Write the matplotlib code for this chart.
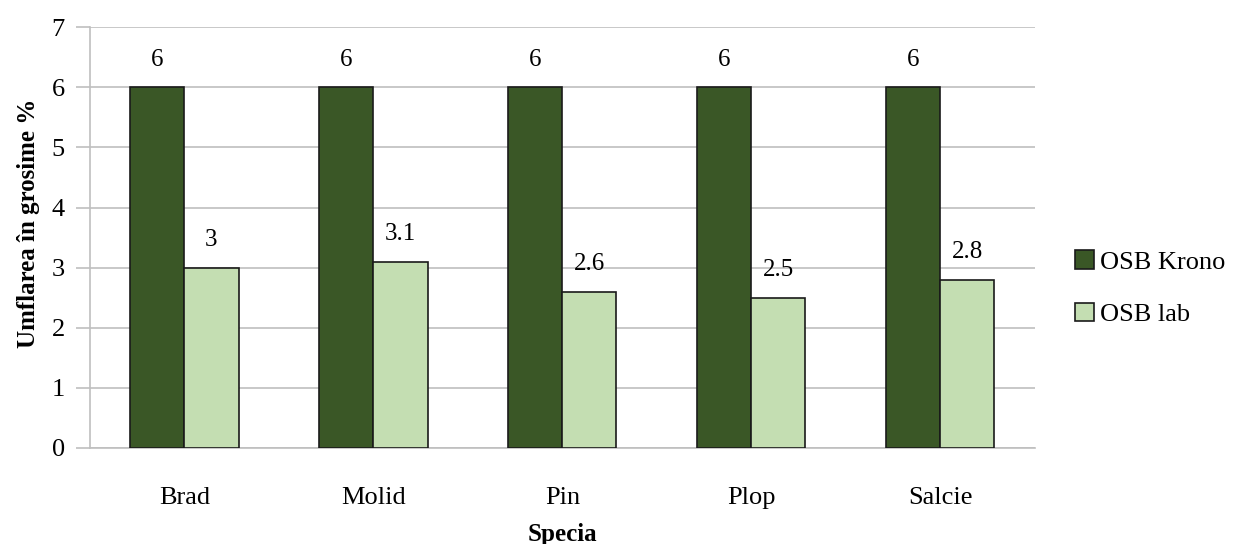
import numpy as np
import matplotlib
matplotlib.use('Agg')
import matplotlib.pyplot as plt

species = ['Brad', 'Molid', 'Pin', 'Plop', 'Salcie']
osb_krono = [6, 6, 6, 6, 6]
osb_lab = [3, 3.1, 2.6, 2.5, 2.8]
y_ticks = [0, 1, 2, 3, 4, 5, 6, 7]

plt.rcParams['font.family'] = ['Liberation Serif', 'DejaVu Serif']

fig = plt.figure(figsize=(12.36, 5.44), dpi=100)
ax = fig.add_axes([0.0728, 0.1765, 0.7645, 0.7735])

x = np.arange(len(species))
width = 0.286
grid_color = '#BFBFBF'

bars_krono = ax.bar(x - width / 2, osb_krono, width, color='#3A5726',
                    edgecolor='#1A1A1A', linewidth=1.2, label='OSB Krono', zorder=3)
bars_lab = ax.bar(x + width / 2, osb_lab, width, color='#C4DEB2',
                  edgecolor='#1A1A1A', linewidth=1.2, label='OSB lab', zorder=3)

ax.bar_label(bars_krono, labels=[f'{v:g}' for v in osb_krono], padding=12, fontsize=18)
ax.bar_label(bars_lab, labels=[f'{v:g}' for v in osb_lab], padding=12, fontsize=18)

ax.set_xlim(-0.5, len(species) - 0.5)
ax.set_ylim(0, 7)
ax.set_yticks(y_ticks)
ax.set_xticks(x)
ax.set_xticklabels(species)
ax.tick_params(axis='y', labelsize=19, length=10, color=grid_color, width=1.2, pad=8)
ax.tick_params(axis='x', labelsize=19, length=0, pad=28)

ax.yaxis.grid(True, color=grid_color, linewidth=1.2, zorder=0)
ax.set_axisbelow(True)
for side in ['top', 'right']:
    ax.spines[side].set_visible(False)
for side in ['left', 'bottom']:
    ax.spines[side].set_color(grid_color)
    ax.spines[side].set_linewidth(1.2)

ax.set_xlabel('Specia', fontsize=18, fontweight='bold', labelpad=10)
ax.set_ylabel('Umflarea în grosime %', fontsize=18, fontweight='bold')
ax.yaxis.set_label_coords(-0.053, 0.533)

fig.legend(handles=[bars_krono, bars_lab], loc='center left',
           bbox_to_anchor=(0.870, 0.470), frameon=False, fontsize=19,
           handlelength=0.7, handleheight=0.7, handletextpad=0.25,
           labelspacing=1.1, borderpad=0, borderaxespad=0)

fig.savefig('out.png', dpi=100)
